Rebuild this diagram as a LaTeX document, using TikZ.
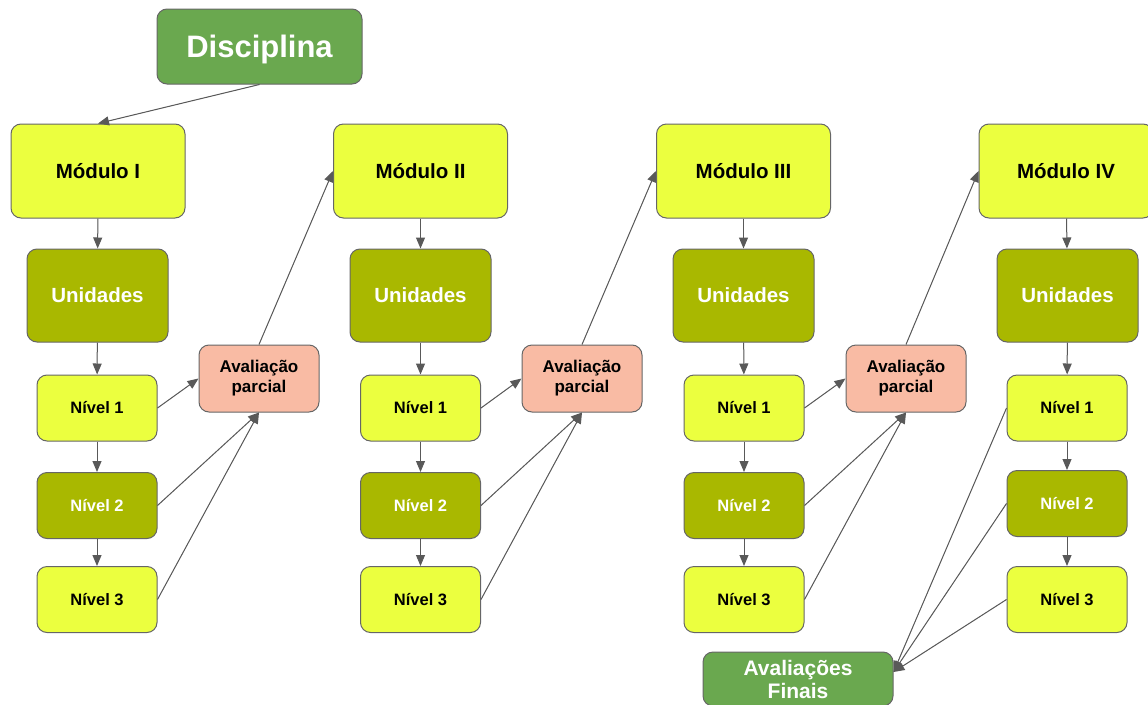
\documentclass[tikz,border=0pt]{standalone}
\usepackage{fontspec}
\setmainfont{Liberation Sans}
\usetikzlibrary{arrows.meta}
\definecolor{dgreen}{HTML}{6AA84F}
\definecolor{ylw}{HTML}{EBFF3F}
\definecolor{olv}{HTML}{A9B800}
\definecolor{slm}{HTML}{F9BBA4}
\definecolor{edgec}{HTML}{666666}
\definecolor{linec}{HTML}{595959}
\tikzset{
  box/.style={draw=edgec, line width=1pt, rounded corners=10pt, align=center, inner sep=0pt},
  modbox/.style={box, fill=ylw, text=black, minimum width=174pt, minimum height=94pt, font=\bfseries\fontsize{20.5}{22}\selectfont},
  unibox/.style={box, fill=olv, text=white, minimum width=141pt, minimum height=93pt, font=\bfseries\fontsize{20.5}{22}\selectfont},
  nivy/.style={box, fill=ylw, text=black, minimum width=120pt, minimum height=66pt, font=\bfseries\fontsize{16.5}{18}\selectfont},
  nivo/.style={box, fill=olv, text=white, minimum width=120pt, minimum height=66pt, font=\bfseries\fontsize{16.5}{18}\selectfont},
  avbox/.style={box, fill=slm, text=black, minimum width=120pt, minimum height=67pt, font=\bfseries\fontsize{17}{20}\selectfont},
  grbox/.style={box, fill=dgreen, text=white},
  arr/.style={draw=linec, line width=1pt, -{Triangle[length=11pt,width=9pt]}, fill=linec}
}
\begin{document}
\begin{tikzpicture}[x=1pt,y=-1pt]
\useasboundingbox (0,0) rectangle (1148,704);
% top
\node[grbox, minimum width=205pt, minimum height=75pt, text depth=0pt, font=\bfseries\fontsize{31}{33}\selectfont] (disc) at (259.5,46.5) {Disciplina};
% column 1
\node[modbox] (m1) at (98,171) {Módulo I};
\node[unibox] (u1) at (97.5,295.5) {Unidades};
\node[nivy] (a1) at (97,408) {Nível 1};
\node[nivo] (b1) at (97,505.5) {Nível 2};
\node[nivy] (c1) at (97,599.5) {Nível 3};
\node[avbox] (p1) at (259,378.5) {Avaliação\\parcial};
% column 2
\node[modbox] (m2) at (420.5,171) {Módulo II};
\node[unibox] (u2) at (420.5,295.5) {Unidades};
\node[nivy] (a2) at (420.5,408) {Nível 1};
\node[nivo] (b2) at (420.5,505.5) {Nível 2};
\node[nivy] (c2) at (420.5,599.5) {Nível 3};
\node[avbox] (p2) at (582,378.5) {Avaliação\\parcial};
% column 3
\node[modbox] (m3) at (743.5,171) {Módulo III};
\node[unibox] (u3) at (743.5,295.5) {Unidades};
\node[nivy] (a3) at (744,408) {Nível 1};
\node[nivo] (b3) at (744,505.5) {Nível 2};
\node[nivy] (c3) at (744,599.5) {Nível 3};
\node[avbox] (p3) at (906,378.5) {Avaliação\\parcial};
% column 4
\node[modbox] (m4) at (1066,171) {Módulo IV};
\node[unibox] (u4) at (1067.5,295.5) {Unidades};
\node[nivy] (a4) at (1067,408) {Nível 1};
\node[nivo] (b4) at (1067,503.5) {Nível 2};
\node[nivy] (c4) at (1067,599.5) {Nível 3};
% finals
\node[grbox, minimum width=190pt, minimum height=54pt, font=\bfseries\fontsize{21}{23}\selectfont] (fin) at (798,679) {Avaliações\\Finais};
% connectors
\draw[arr] (disc.south) -- (m1.north);
\foreach \i in {1,2,3,4}{
  \draw[arr] (m\i) -- (u\i);
  \draw[arr] (u\i) -- (a\i);
  \draw[arr] (a\i) -- (b\i);
  \draw[arr] (b\i) -- (c\i);
}
\foreach \i/\j in {1/2,2/3,3/4}{
  \draw[arr] (a\i.east) -- (p\i.west);
  \draw[arr] (b\i.east) -- (p\i.south);
  \draw[arr] (c\i.east) -- (p\i.south);
  \draw[arr] (p\i.north) -- (m\j.west);
}
\coordinate (fint) at ([yshift=7pt]fin.east);
\draw[arr] (a4.west) -- (fint);
\draw[arr] (b4.west) -- (fint);
\draw[arr] (c4.west) -- (fint);
\end{tikzpicture}
\end{document}
